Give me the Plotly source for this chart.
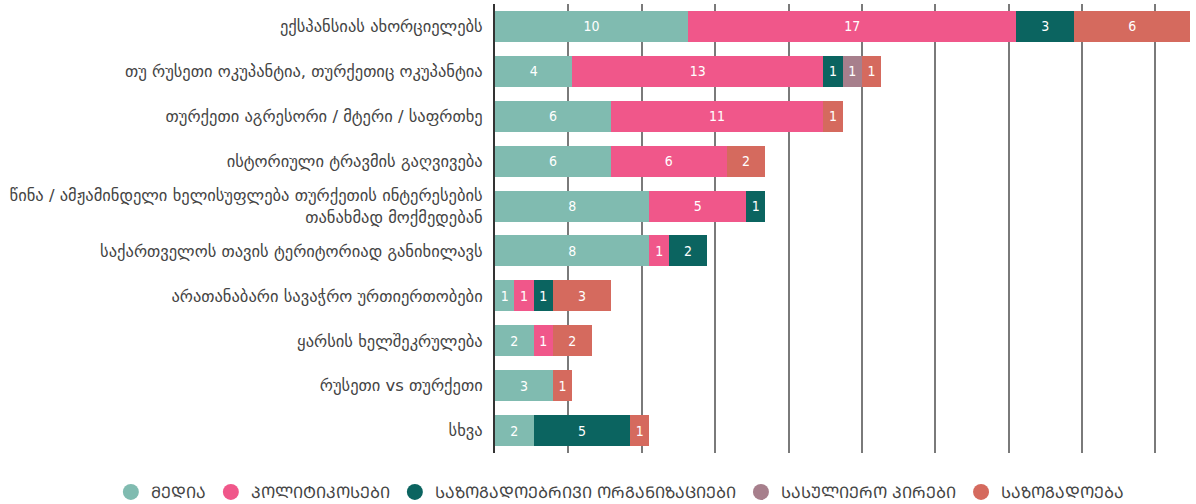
import plotly.graph_objects as go

# categories, top to bottom
categories = [
    "ექსპანსიას ახორციელებს",
    "თუ რუსეთი ოკუპანტია, თურქეთიც ოკუპანტია",
    "თურქეთი აგრესორი / მტერი / საფრთხე",
    "ისტორიული ტრავმის გაღვივება",
    "წინა / ამჟამინდელი ხელისუფლება თურქეთის ინტერესების<br>თანახმად მოქმედებან",
    "საქართველოს თავის ტერიტორიად განიხილავს",
    "არათანაბარი სავაჭრო ურთიერთობები",
    "ყარსის ხელშეკრულება",
    "რუსეთი vs თურქეთი",
    "სხვა",
]

series_names = [
    "ᲛᲔᲓᲘᲐ",
    "ᲞᲝᲚᲘᲢᲘᲙᲝᲡᲔᲑᲘ",
    "ᲡᲐᲖᲝᲒᲐᲓᲝᲔᲑᲠᲘᲕᲘ ᲝᲠᲒᲐᲜᲘᲖᲐᲪᲘᲔᲑᲘ",
    "ᲡᲐᲡᲣᲚᲘᲔᲠᲝ ᲞᲘᲠᲔᲑᲘ",
    "ᲡᲐᲖᲝᲒᲐᲓᲝᲔᲑᲐ",
]

media = [10, 4, 6, 6, 8, 8, 1, 2, 3, 2]
politicians = [17, 13, 11, 6, 5, 1, 1, 1, None, None]
organizations = [3, 1, None, None, 1, 2, 1, None, None, 5]
clergy = [None, 1, None, None, None, None, None, None, None, None]
society = [6, 1, 1, 2, None, None, 3, 2, 1, 1]

COLORS = ["#80BBB0", "#F0578A", "#0B6460", "#A77F8C", "#D56A5E"]

fig = go.Figure()
for name, vals, col in zip(series_names,
                           [media, politicians, organizations, clergy, society],
                           COLORS):
    fig.add_trace(go.Bar(
        y=categories, x=vals, orientation="h", name=name,
        marker=dict(color=col, line_width=0),
        texttemplate="%{x}", textposition="inside",
        insidetextanchor="middle", textangle=0, constraintext="none",
        textfont=dict(family="DejaVu Sans Condensed, Liberation Sans Narrow, sans-serif",
                      size=14, color="white"),
        showlegend=False,
    ))
    # round legend markers
    fig.add_trace(go.Scatter(
        x=[None], y=[None], mode="markers", name=name,
        marker=dict(color=col, size=18, symbol="circle"),
    ))

fig.update_layout(
    barmode="stack",
    bargap=0.31,
    width=1196, height=504,
    paper_bgcolor="white", plot_bgcolor="white",
    margin=dict(l=495, r=0, t=4, b=51, autoexpand=False),
    font=dict(family="DejaVu Sans, sans-serif", color="#444"),
    legend=dict(
        orientation="h", x=-0.548, xanchor="left", y=-0.087, yanchor="middle",
        font=dict(size=16, color="#444"), itemwidth=30,
        traceorder="normal",
    ),
)
fig.update_xaxes(
    range=[0, 36.3], dtick=3.8, tick0=0, showticklabels=False,
    showgrid=True, gridcolor="#7a7a7a", gridwidth=1.5,
    zeroline=False, showline=False,
)
fig.update_yaxes(
    autorange="reversed", showgrid=False, ticks="", automargin=False,
    showline=True, linecolor="#333", linewidth=2,
    tickfont=dict(size=16.5, color="#444"), ticklabelstandoff=7,
)

# drop the default page margin so the figure sits at the window's corner
fig.write_html("out.html", config={"displayModeBar": False},
               post_script="document.body.style.margin='0';")
